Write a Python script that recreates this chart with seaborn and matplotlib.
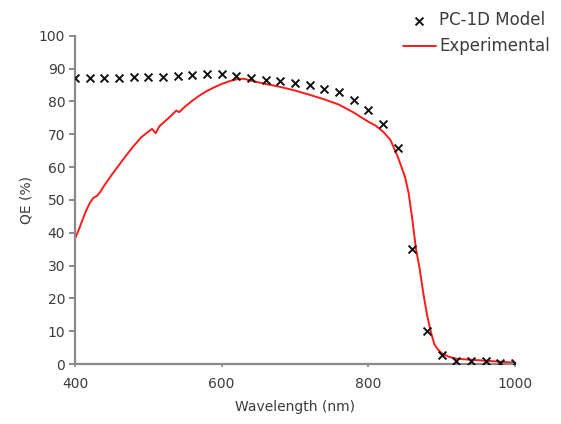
import matplotlib
matplotlib.use("Agg")
import matplotlib.pyplot as plt
import seaborn as sns
import pandas as pd

# PC-1D simulated quantum efficiency, every 20 nm
model_wl = [400, 420, 440, 460, 480, 500, 520, 540, 560, 580, 600, 620, 640, 660,
            680, 700, 720, 740, 760, 780, 800, 820, 840, 860, 880, 900, 920, 940,
            960, 980, 1000]
model_qe = [87.1, 87.1, 87.1, 87.2, 87.3, 87.4, 87.5, 87.8, 88.0, 88.3, 88.2, 87.6,
            87.1, 86.6, 86.1, 85.6, 84.9, 83.9, 82.7, 80.4, 77.4, 73.1, 65.8, 35.1,
            10.0, 2.8, 0.8, 0.8, 0.9, 0.3, 0.2]

# Measured quantum efficiency
exp_wl = [400, 405, 410, 415, 420, 425, 430, 435, 440, 450, 460, 470, 480, 490,
          500, 505, 510, 515, 520, 530, 538, 542, 550, 560, 570, 580, 590, 600,
          610, 620, 630, 640, 660, 680, 700, 720, 740, 760, 780, 790, 800, 810,
          820, 830, 840, 850, 855, 860, 865, 870, 875, 880, 885, 890, 895, 900,
          910, 920, 940, 960, 980, 1000]
exp_qe = [38.2, 40.8, 43.8, 46.6, 49.0, 50.6, 51.2, 52.6, 54.4, 57.6, 60.6, 63.6,
          66.4, 69.0, 70.8, 71.6, 70.3, 72.4, 73.4, 75.4, 77.2, 76.7, 78.4, 80.2,
          81.8, 83.2, 84.3, 85.3, 86.1, 86.7, 86.9, 86.3, 85.3, 84.4, 83.3, 82.0,
          80.6, 79.0, 76.6, 75.2, 73.8, 72.6, 70.8, 68.3, 63.2, 57.0, 52.0, 44.0,
          35.0, 29.0, 21.5, 15.0, 10.0, 6.0, 4.4, 3.3, 2.2, 1.6, 1.3, 1.0, 0.7, 0.4]

x_ticks = [400, 600, 800, 1000]
y_ticks = list(range(0, 101, 10))

model_df = pd.DataFrame({"wl": model_wl, "qe": model_qe})
exp_df = pd.DataFrame({"wl": exp_wl, "qe": exp_qe})

sns.set_style("white")
plt.rcParams["font.family"] = ["DejaVu Sans"]
text_color = "#3c3c3c"
axis_color = "#8a8a8a"

fig = plt.figure(figsize=(5.61, 4.24), dpi=100)
ax = fig.add_axes([0.1337, 0.1415, 0.7843, 0.7743])

sns.lineplot(data=exp_df, x="wl", y="qe", ax=ax, color="#ff1a1a", linewidth=1.4,
             label="Experimental", zorder=2)
sns.scatterplot(data=model_df, x="wl", y="qe", ax=ax, marker="x", color="#111111",
                s=32, linewidth=1.4, label="PC-1D Model", zorder=3)

ax.set_xlim(400, 1000)
ax.set_ylim(0, 100)
ax.set_xticks(x_ticks)
ax.set_yticks(y_ticks)
ax.set_xlabel("Wavelength (nm)", fontsize=10, color=text_color, labelpad=6)
ax.set_ylabel("QE (%)", fontsize=10, color=text_color, labelpad=4)

for side in ("top", "right"):
    ax.spines[side].set_visible(False)
for side in ("left", "bottom"):
    ax.spines[side].set_color(axis_color)
    ax.spines[side].set_linewidth(1.6)
ax.tick_params(axis="y", direction="out", length=4, width=1.4, color=axis_color,
               labelsize=10, labelcolor=text_color, pad=3, left=True)
ax.tick_params(axis="x", direction="out", length=2.5, width=1.2, color=axis_color,
               labelsize=10, labelcolor=text_color, pad=7, bottom=True)

handles, labels = ax.get_legend_handles_labels()
order = [labels.index("PC-1D Model"), labels.index("Experimental")]
ax.legend([handles[i] for i in order], [labels[i] for i in order],
          loc="upper left", bbox_to_anchor=(0.718, 0.974),
          bbox_transform=fig.transFigure, frameon=False, fontsize=12,
          handlelength=2.0, handletextpad=0.2, labelspacing=0.5,
          borderpad=0, borderaxespad=0, labelcolor=text_color)

fig.savefig("out.png", dpi=100)
